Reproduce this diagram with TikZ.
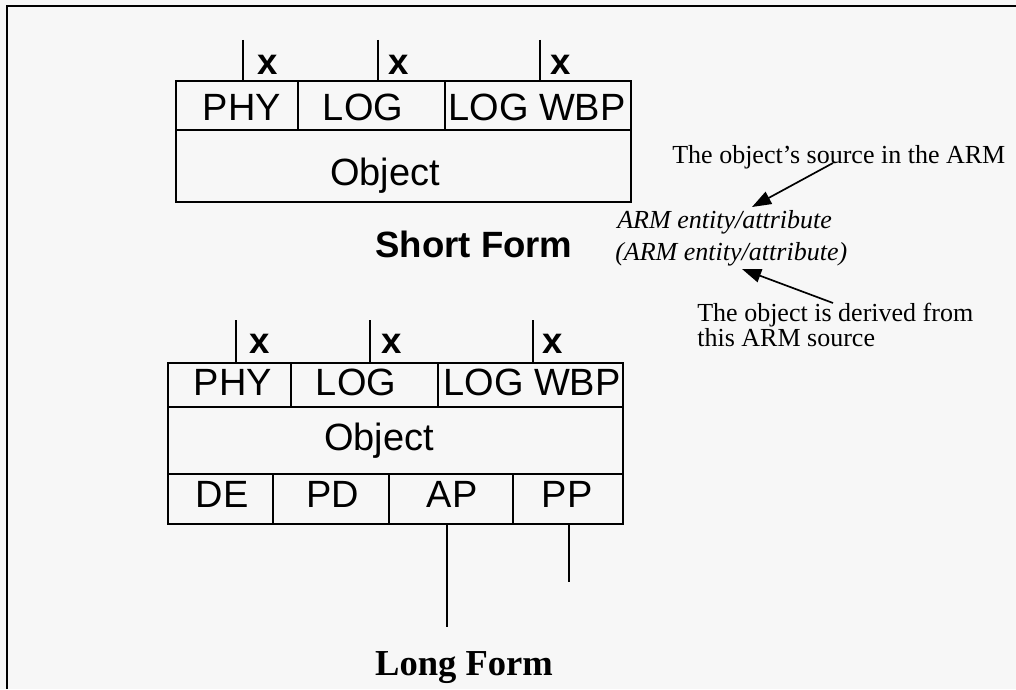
\documentclass[tikz,border=0pt]{standalone}
\usepackage{fontspec}
\setmainfont{Liberation Serif}
\setsansfont{Liberation Sans}
\usetikzlibrary{arrows.meta}

\begin{document}
\begin{tikzpicture}[x=0.025cm,y=-0.025cm,
  box/.style={line width=1.4pt},
  tick/.style={line width=1pt},
  cell/.style={inner sep=0pt,anchor=base,font=\sffamily\fontsize{27}{30}\selectfont},
  xlab/.style={inner sep=0pt,anchor=base,font=\sffamily\bfseries\fontsize{26}{28}\selectfont},
  note/.style={inner sep=0pt,anchor=base west,font=\fontsize{18.5}{17.5}\selectfont},
  pointer/.style={line width=1.2pt,-{Triangle[length=4.8mm,width=3.4mm]}}]
\useasboundingbox (0,0) rectangle (1016,689);
\fill[black!3] (0,0) rectangle (1016,689);
\draw[line width=1.8pt] (7,689) -- (7,6) -- (1016,6);
\draw[box] (176,81) rectangle (631,202);
\draw[box] (176,130) -- (631,130);
\draw[box] (298,81) -- (298,130);
\draw[box] (445,81) -- (445,130);
\draw[tick] (243,40) -- (243,81);
\draw[tick] (378,40) -- (378,81);
\draw[tick] (540,40) -- (540,81);
\node[xlab] (sx1) at (268,75) {x};
\node[xlab] (sx2) at (399,75) {x};
\node[xlab] (sx3) at (561,75) {x};
\node[cell] (sphy) at (242,121) {PHY};
\node[cell] (slog) at (363,121) {LOG};
\node[cell] (swbp) at (537,121) {LOG WBP};
\node[cell] (sobj) at (385,185) {Object};
\node[xlab] (short) at (474,257) {Short Form};
\draw[box] (168,363) rectangle (623,524);
\draw[box] (168,407) -- (623,407);
\draw[box] (168,474) -- (623,474);
\draw[box] (291,363) -- (291,407);
\draw[box] (438,363) -- (438,407);
\draw[box] (273,474) -- (273,524);
\draw[box] (389,474) -- (389,524);
\draw[box] (513,474) -- (513,524);
\draw[tick] (236,320) -- (236,363);
\draw[tick] (370,320) -- (370,363);
\draw[tick] (533,320) -- (533,363);
\node[xlab] (lx1) at (260,353) {x};
\node[xlab] (lx2) at (392,353) {x};
\node[xlab] (lx3) at (553,353) {x};
\node[cell] (lphy) at (233,395) {PHY};
\node[cell] (llog) at (356,395) {LOG};
\node[cell] (lwbp) at (532,395) {LOG WBP};
\node[cell] (lobj) at (379,450) {Object};
\node[cell] (lde) at (222,507) {DE};
\node[cell] (lpd) at (333,507) {PD};
\node[cell] (lap) at (452,507) {AP};
\node[cell] (lpp) at (567,507) {PP};
\draw[tick] (447,524) -- (447,627);
\draw[tick] (569,524) -- (569,582);
\node[inner sep=0pt,anchor=base,font=\bfseries\fontsize{26}{28}\selectfont] (long) at (464,675) {Long Form};
\node[note] (src) at (672,163) {The object's source in the ARM};
\node[note,font=\itshape\fontsize{18.5}{20}\selectfont] (ent) at (617,228) {ARM entity/attribute};
\node[note,font=\itshape\fontsize{18.5}{20}\selectfont] (der) at (615,260) {(ARM entity/attribute)};
\node[note,align=left,anchor=north west] (from) at (697,303) {The object is derived from\\this ARM source};
\coordinate (srcfoot) at (833,163);
\coordinate (enttop) at (752,207);
\coordinate (fromtop) at (833,303);
\coordinate (derfoot) at (742,269);
\draw[pointer] (srcfoot) -- (enttop);
\draw[pointer] (fromtop) -- (derfoot);
\end{tikzpicture}
\end{document}
